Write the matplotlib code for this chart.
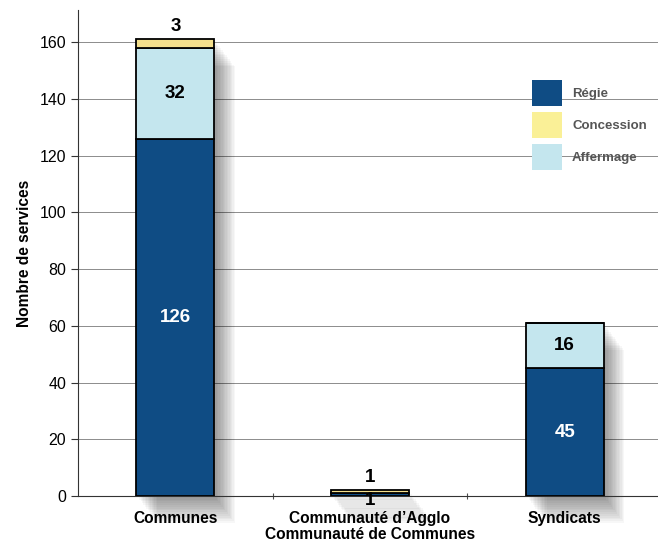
import numpy as np
import matplotlib.pyplot as plt
import matplotlib.patheffects as pe
from matplotlib.patches import Patch

categories = ['Communes', 'Communauté d’Agglo\nCommunauté de Communes', 'Syndicats']
regie = [126, 1, 45]
affermage = [32, 0, 16]
concession = [3, 1, 0]

c_regie = '#0f4c84'
c_conc = '#f3df8c'
c_aff = '#c4e6ee'

plt.rcParams['font.family'] = ['Liberation Sans', 'DejaVu Sans']

fig = plt.figure(figsize=(6.58, 5.49), dpi=100)
ax = fig.add_axes([78 / 658, 53 / 549, 584 / 658, 486 / 549])

x = np.arange(len(categories))
w = 0.4
regie = np.array(regie)
affermage = np.array(affermage)
concession = np.array(concession)
totals = regie + affermage + concession

# soft drop shadow behind every bar
shadow = [pe.SimplePatchShadow(offset=(k, -1.3 * k), shadow_rgbFace='k', alpha=0.03)
          for k in range(2, 16)]
ax.bar(x, totals, w, color='none', lw=0, zorder=1, clip_on=False, path_effects=shadow)

ax.bar(x, regie, w, color=c_regie, edgecolor='k', lw=1.3, zorder=3)
ax.bar(x, affermage, w, bottom=regie, color=c_aff, edgecolor='k', lw=1.3, zorder=3)
ax.bar(x, concession, w, bottom=regie + affermage, color=c_conc, edgecolor='k', lw=1.3, zorder=3)

fs = 13.5
for i in range(len(x)):
    if regie[i] >= 5:
        ax.text(x[i], regie[i] / 2, str(regie[i]), ha='center', va='center',
                color='white', fontsize=fs, fontweight='bold', zorder=5)
    elif regie[i] > 0:
        ax.text(x[i], regie[i] / 2 + 1.0, str(regie[i]), ha='center', va='top',
                color='k', fontsize=fs, fontweight='bold', zorder=5)
    if affermage[i] > 0:
        ax.text(x[i], regie[i] + affermage[i] / 2, str(affermage[i]), ha='center', va='center',
                color='k', fontsize=fs, fontweight='bold', zorder=5)
    if concession[i] > 0:
        ax.text(x[i], totals[i] + 1.5, str(concession[i]), ha='center', va='bottom',
                color='k', fontsize=fs, fontweight='bold', zorder=5)

ax.set_xlim(-0.5, 2.5)
ax.set_ylim(0, 171.3)
ax.set_yticks(np.arange(0, 161, 20))
ax.set_xticks(x)
ax.set_xticklabels(categories, fontweight='bold', fontsize=11.2, linespacing=1.1)
ax.set_xticks([0.5, 1.5], minor=True)
ax.tick_params(axis='x', which='major', length=0, pad=11)
ax.tick_params(axis='x', which='minor', length=5, direction='inout', width=0.8, color='0.3')
ax.tick_params(axis='y', length=5, direction='out', width=0.8, labelsize=11.5, color='0.2')
ax.set_ylabel('Nombre de services', fontweight='bold', fontsize=11.2, labelpad=5)

ax.grid(axis='y', color='0.55', lw=0.7)
ax.set_axisbelow(True)
for s in ['top', 'right']:
    ax.spines[s].set_visible(False)
ax.spines['left'].set_color('0.2')
ax.spines['bottom'].set_color('0.2')

handles = [Patch(facecolor=c_regie, edgecolor='none'),
           Patch(facecolor='#faf097', edgecolor='none'),
           Patch(facecolor=c_aff, edgecolor='none')]
leg = ax.legend(handles, ['Régie', 'Concession', 'Affermage'], loc='upper left',
                bbox_to_anchor=(0.777, 0.856), frameon=False, borderpad=0, borderaxespad=0,
                handlelength=2.3, handleheight=2.65, labelspacing=0.45, handletextpad=0.75,
                prop={'weight': 'bold', 'size': 9.5})
for t in leg.get_texts():
    t.set_color('#555555')

fig.savefig('out.png', dpi=100)
